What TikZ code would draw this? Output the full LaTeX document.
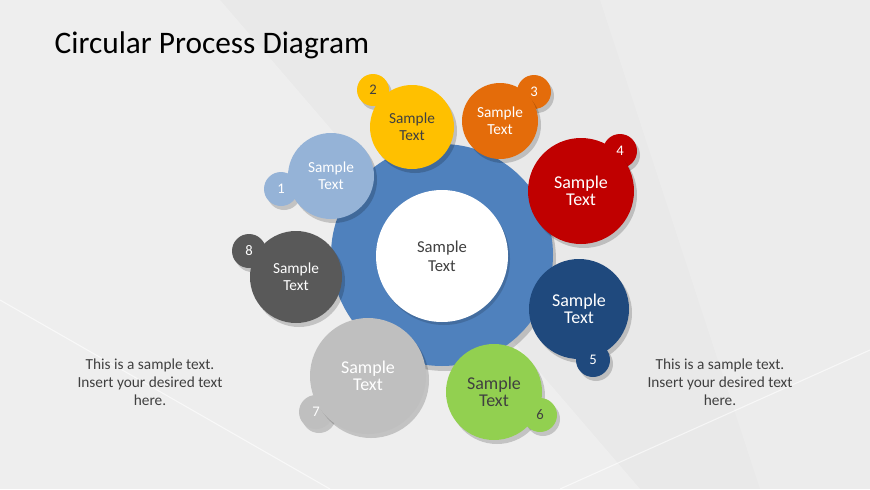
\documentclass[tikz,border=0pt]{standalone}
\usepackage{fontspec}
\setmainfont{Carlito}
\definecolor{bg}{HTML}{E9E9E9}
\definecolor{cblue}{HTML}{4F81BD}
\definecolor{clblue}{HTML}{95B3D7}
\definecolor{cyel}{HTML}{FFC000}
\definecolor{corg}{HTML}{E46C0A}
\definecolor{cred}{HTML}{C00000}
\definecolor{cdblue}{HTML}{1F497D}
\definecolor{cgreen}{HTML}{92D050}
\definecolor{cgray}{HTML}{BFBFBF}
\definecolor{cdgray}{HTML}{595959}
\definecolor{txt}{HTML}{404040}
\tikzset{
 circ/.style={circle,inner sep=0pt,align=center,font=\fontsize{11.5}{12.5}\selectfont,text=white},
 shad/.style={fill=black,opacity=0.18},
 num/.style={font=\fontsize{11}{12}\selectfont,text=white},
 side/.style={align=center,font=\fontsize{11.5}{13.5}\selectfont,text=txt}
}
\newcommand{\bub}[6]{% name, x, y, r, color, text
 \fill[shad] (#2+3,#3+4) circle (#4);
 \node[circ,fill=#5,minimum size=#4*1.5pt] (#1) at (#2,#3) {#6};}
\begin{document}
\begin{tikzpicture}[x=0.75pt,y=-0.75pt]
\fill[bg] (0,0) rectangle (870,489);
\useasboundingbox (0,0) rectangle (870,489);
\fill[white,opacity=0.25] (0,0) -- (220,0) -- (640,489) -- (0,489) -- cycle;
\fill[white,opacity=0.15] (600,0) -- (870,0) -- (870,489) -- (760,489) -- cycle;
\draw[white,opacity=0.6,line width=0.8pt] (0,300) -- (330,489);
\draw[white,opacity=0.6,line width=0.8pt] (560,489) -- (870,350);
\node[anchor=west,font=\fontsize{23.5}{26}\selectfont,text=black] (title) at (50,45) {Circular Process Diagram};
% center
\fill[shad] (445,260) circle (111);
\node[circle,fill=cblue,minimum size=222*0.75pt] (big) at (442,255) {};
\fill[black,opacity=0.15] (444,259) circle (66);
\node[circ,fill=white,text=txt,font=\fontsize{12.5}{14}\selectfont,minimum size=132*0.75pt] (mid) at (442,256) {Sample\\Text};
% badges (behind)
\bub{b1}{281}{189}{17}{clblue}{}
\bub{b2}{373}{90}{16}{cyel}{}
\bub{b3}{534}{92}{17}{corg}{}
\bub{b4}{620}{151}{17}{cred}{}
\bub{b7}{316}{412}{17}{cgray}{}
\bub{b8}{249}{251}{17}{cdgray}{}
% main bubbles
\bub{c1}{331}{176}{43}{clblue}{Sample\\Text}
\bub{c2}{412}{127}{42}{cyel}{\textcolor{txt}{Sample}\\\textcolor{txt}{Text}}
\bub{c3}{500}{121}{38}{corg}{Sample\\Text}
\bub{c4}{581}{191}{53}{cred}{\fontsize{13.5}{16}\selectfont Sample\\\fontsize{13.5}{16}\selectfont Text}
\bub{c5}{579}{309}{50}{cdblue}{\fontsize{13.5}{16}\selectfont Sample\\\fontsize{13.5}{16}\selectfont Text}
\bub{b5}{593}{360}{17}{cdblue}{}
\bub{c6}{494}{392}{48}{cgreen}{\textcolor{txt}{\fontsize{13.5}{16}\selectfont Sample}\\\textcolor{txt}{\fontsize{13.5}{16}\selectfont Text}}
\bub{b6}{540}{415}{17}{cgreen}{}
\bub{c7}{368}{376}{58}{cgray}{\fontsize{13.5}{16}\selectfont Sample\\\fontsize{13.5}{16}\selectfont Text}
\bub{c8}{296}{277}{46}{cdgray}{Sample\\Text}
% badge numbers
\node[num] at (b1) {1};
\node[num,text=txt] at (b2) {2};
\node[num] at (b3) {3};
\node[num] at (b4) {4};
\node[num] at (b5) {5};
\node[num,text=txt] at (b6) {6};
\node[num] at (b7) {7};
\node[num] at (b8) {8};
\node[side] (s1) at (150,382) {This is a sample text.\\Insert your desired text\\here.};
\node[side] (s2) at (720,382) {This is a sample text.\\Insert your desired text\\here.};
\end{tikzpicture}
\end{document}
